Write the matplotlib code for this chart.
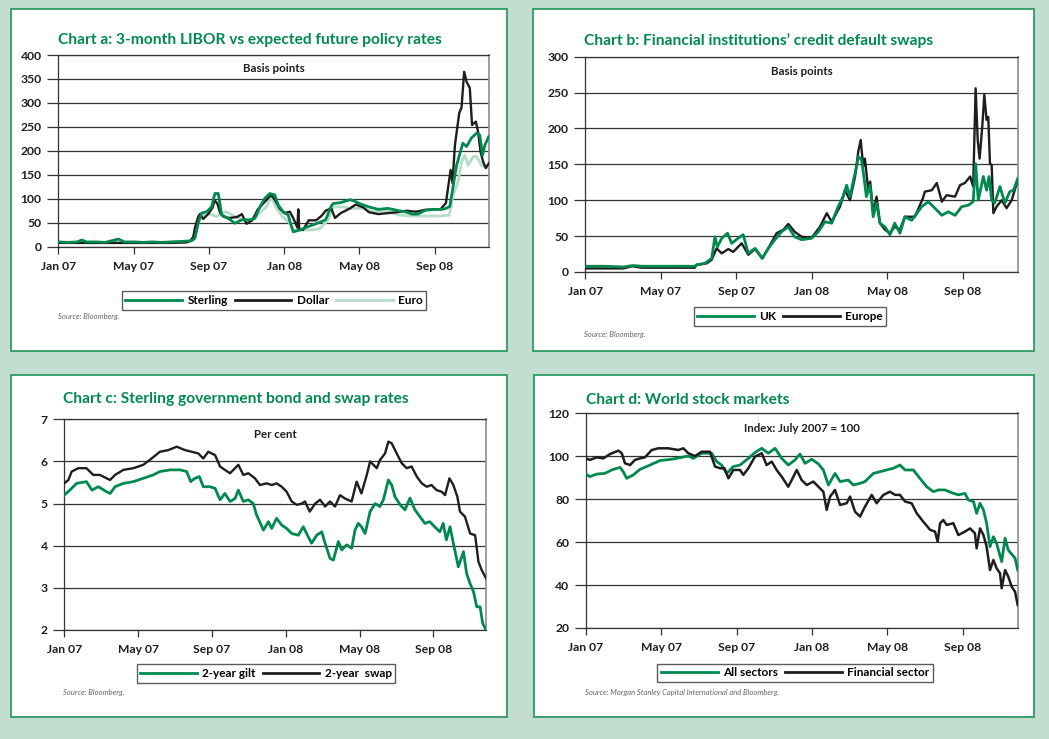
import matplotlib
matplotlib.use("Agg")
import matplotlib.pyplot as plt
from matplotlib.patches import Rectangle
from matplotlib.lines import Line2D

plt.rcParams.update({
    "font.family": ["Lato", "DejaVu Sans"],
    "font.size": 8.5,
})

GREEN = "#00894f"
LIGHT = "#b5dcc8"
DARK = "#1e1e1e"
BG = "#c3ddd0"

# x positions are months since 1 Jan 2007
month_ticks = [0, 4, 8, 12, 16, 20]
month_labels = ["Jan 07", "May 07", "Sep 07", "Jan 08", "May 08", "Sep 08"]

# ---- chart a: 3-month LIBOR spread (basis points)
a_sterling_m = [0, 0.5, 1.0, 1.25, 1.5, 2.0, 2.5, 3.2, 3.5, 4.0, 4.5, 5.0, 5.5, 6.0, 6.5, 7.0,
                7.15, 7.26, 7.43, 7.61, 7.88, 8.14, 8.32, 8.5, 8.68, 9.03, 9.38, 9.74, 10.18,
                10.44, 10.71, 10.97, 11.24, 11.5, 11.68, 11.95, 12.21, 12.39, 12.48, 12.83,
                13.27, 13.7, 14.2, 14.5, 14.6, 15.0, 15.5, 15.75, 16.0, 16.5, 17.0, 17.5, 18.0,
                18.5, 18.8, 19.1, 19.5, 20.0, 20.4, 20.6, 20.8, 20.95, 21.07, 21.16, 21.49,
                21.69, 21.95, 22.22, 22.39, 22.54, 22.66, 22.87]
a_sterling = [10, 9, 10, 14, 10, 10, 9, 16, 10, 10, 9, 10, 9, 10, 11, 12,
              14, 18, 49, 70, 73, 83, 111, 111, 66, 59, 49, 56, 56,
              59, 83, 101, 111, 108, 87, 73, 66, 42, 31, 35,
              42, 48, 56, 85, 90, 92, 98, 95, 90, 83, 78, 80, 76,
              72, 68, 68, 76, 78, 78, 80, 84, 120, 150, 170, 216,
              209, 227, 237, 233, 191, 212, 230]

a_dollar_m = [0, 1, 2, 3, 4, 5, 6, 6.8, 7.0, 7.17, 7.26, 7.43, 7.52, 7.7, 7.96, 8.2, 8.3, 8.45,
              8.6, 8.8, 9.1, 9.5, 9.75, 10.0, 10.3, 10.6, 11.0, 11.3, 11.5, 11.75, 12.0, 12.3,
              12.5, 12.7, 12.75, 12.8, 13.0, 13.3, 13.7, 14.0, 14.2, 14.5, 14.7, 15.0, 15.5,
              15.8, 16.2, 16.5, 17.0, 17.5, 18.0, 18.5, 19.0, 19.5, 20.0, 20.3, 20.59, 20.84,
              20.94, 21.07, 21.3, 21.42, 21.56, 21.69, 21.86, 21.98, 22.18, 22.3, 22.43,
              22.57, 22.71, 22.87]
a_dollar = [8, 8, 8, 8, 8, 8, 8, 9, 12, 20, 40, 62, 68, 58, 68, 82, 97, 90,
            70, 62, 60, 62, 68, 48, 55, 78, 95, 108, 98, 80, 70, 73,
            58, 40, 78, 35, 35, 55, 55, 65, 75, 80, 60, 70, 80,
            88, 82, 72, 68, 70, 72, 75, 73, 77, 78, 78, 91, 160,
            133, 212, 279, 290, 365, 344, 331, 254, 261, 240, 198,
            177, 164, 174]

a_euro_m = [0, 2, 4, 6, 7.0, 7.3, 7.52, 7.9, 8.4, 8.9, 9.25, 9.8, 10.3, 10.7, 11.05, 11.3,
            11.55, 11.9, 12.3, 12.48, 13.0, 13.5, 13.9, 14.34, 14.6, 15.1, 15.6, 16.2, 16.7,
            17.4, 18.1, 18.8, 19.5, 20.2, 20.77, 20.98, 21.24, 21.42, 21.6, 21.77, 22.04,
            22.22, 22.48, 22.71, 22.87]
a_euro = [8, 8, 8, 8, 10, 30, 63, 70, 63, 73, 66, 56, 56, 70, 83, 104,
          83, 63, 49, 35, 35, 35, 38, 56, 83, 83, 80, 80, 73,
          75, 66, 64, 64, 64, 66, 108, 136, 177, 191, 170, 188,
          188, 170, 166, 170]

# ---- chart b: financial institutions' CDS (basis points)
b_uk_m = [0, 1, 2, 2.5, 3, 4, 5, 5.8, 5.9, 6.34, 6.7, 6.87, 7.0, 7.23, 7.54, 7.76, 8.1, 8.37,
          8.64, 9.0, 9.38, 9.7, 10.05, 10.4, 10.76, 11.1, 11.47, 12.0, 12.35, 12.7, 13.06,
          13.4, 13.67, 13.85, 14.03, 14.2, 14.38, 14.47, 14.65, 14.79, 14.9, 15.1, 15.26,
          15.44, 15.62, 15.88, 16.15, 16.4, 16.68, 16.94, 17.3, 17.83, 18.18, 18.53, 18.9,
          19.24, 19.6, 19.95, 20.3, 20.56, 20.69, 20.83, 21.1, 21.27, 21.4, 21.54, 21.7,
          21.98, 22.24, 22.5, 22.7, 22.92]
b_uk = [8, 8, 7, 9, 8, 8, 8, 8, 10, 12, 19, 49, 35, 47, 54, 40, 47, 52,
        26, 33, 19, 33, 45, 56, 63, 49, 45, 47, 56, 70, 68,
        91, 105, 121, 105, 126, 147, 161, 156, 128, 105, 121, 77,
        96, 68, 63, 52, 68, 54, 77, 72, 91, 98, 89, 79,
        84, 79, 91, 93, 98, 151, 100, 133, 114, 133, 100, 96,
        119, 96, 112, 114, 130]

b_europe_m = [0, 1, 2, 2.5, 3, 4, 5, 5.8, 5.9, 6.43, 6.7, 6.96, 7.23, 7.58, 7.84, 8.29, 8.64,
              9.0, 9.38, 9.7, 10.14, 10.5, 10.76, 11.1, 11.47, 12.0, 12.44, 12.8, 13.06, 13.5,
              13.76, 14.03, 14.3, 14.47, 14.6, 14.73, 14.82, 15.0, 15.1, 15.26, 15.44, 15.62,
              15.88, 16.15, 16.4, 16.68, 16.94, 17.47, 17.9, 18.0, 18.37, 18.63, 18.9, 19.15,
              19.6, 19.86, 20.12, 20.4, 20.56, 20.69, 20.8, 20.9, 21.04, 21.15, 21.27, 21.36,
              21.45, 21.54, 21.63, 21.8, 22.07, 22.33, 22.6, 22.92]
b_europe = [5, 5, 5, 8, 6, 6, 6, 6, 10, 12, 17, 33, 26, 32, 28, 40, 24,
            32, 19, 33, 54, 59, 67, 56, 49, 48, 63, 82, 70, 91,
            114, 100, 133, 168, 184, 147, 158, 114, 126, 82, 105, 68,
            59, 54, 63, 59, 77, 77, 103, 112, 114, 124, 98, 107,
            105, 121, 124, 133, 119, 256, 184, 158, 202, 247, 212, 216,
            151, 149, 82, 91, 100, 89, 100, 128]

# ---- chart c: sterling government bond and swap rates (per cent)
c_gilt_m = [0, 0.3, 0.67, 1.2, 1.5, 1.84, 2.3, 2.48, 2.75, 3.2, 3.74, 4.28, 4.82, 5.18, 5.73,
            5.9, 6.27, 6.63, 6.85, 7.08, 7.32, 7.53, 7.9, 8.17, 8.44, 8.7, 8.98, 9.25, 9.43,
            9.7, 9.97, 10.24, 10.42, 10.79, 11.06, 11.24, 11.5, 11.78, 12.05, 12.32, 12.68,
            12.95, 13.22, 13.4, 13.68, 13.95, 14.13, 14.4, 14.58, 14.85, 15.03, 15.3, 15.57,
            15.75, 15.93, 16.1, 16.3, 16.57, 16.84, 17.1, 17.29, 17.56, 17.74, 17.92, 18.2,
            18.46, 18.73, 19.0, 19.27, 19.54, 19.8, 20.07, 20.35, 20.53, 20.7, 20.9, 21.08,
            21.35, 21.63, 21.8, 21.99, 22.17, 22.35, 22.53, 22.67, 22.85]
c_gilt = [5.2, 5.32, 5.48, 5.52, 5.32, 5.4, 5.28, 5.24, 5.4, 5.48, 5.52, 5.6, 5.68, 5.76, 5.8,
          5.8, 5.8, 5.76, 5.52, 5.6, 5.64, 5.4, 5.4, 5.36, 5.09, 5.24, 5.05, 5.12, 5.32,
          5.05, 5.09, 5.0, 4.73, 4.37, 4.57, 4.41, 4.65, 4.49, 4.41, 4.29, 4.25,
          4.45, 4.21, 4.06, 4.25, 4.33, 4.06, 3.7, 3.66, 4.1, 3.9, 4.02, 3.94,
          4.37, 4.53, 4.45, 4.29, 4.81, 5.0, 4.93, 5.09, 5.56, 5.44, 5.16, 4.97,
          4.85, 5.13, 4.85, 4.69, 4.53, 4.57, 4.45, 4.33, 4.53, 4.14, 4.45, 4.06,
          3.5, 3.86, 3.34, 3.1, 2.91, 2.55, 2.55, 2.16, 2.0]

c_swap_m = [0, 0.22, 0.4, 0.76, 1.2, 1.57, 1.93, 2.48, 2.75, 3.2, 3.74, 4.28, 4.73, 5.18, 5.64,
            6.09, 6.54, 6.9, 7.26, 7.53, 7.8, 8.17, 8.44, 8.7, 8.98, 9.16, 9.43, 9.7, 9.97,
            10.33, 10.6, 10.97, 11.24, 11.5, 11.78, 12.05, 12.32, 12.6, 12.86, 13.04, 13.3,
            13.59, 13.86, 14.13, 14.4, 14.67, 14.94, 15.21, 15.57, 15.84, 16.1, 16.39, 16.57,
            16.75, 16.93, 17.1, 17.38, 17.56, 17.74, 18.01, 18.28, 18.55, 18.82, 19.1, 19.37,
            19.64, 19.9, 20.17, 20.45, 20.63, 20.87, 21.08, 21.3, 21.44, 21.71, 21.99, 22.26,
            22.44, 22.62, 22.85]
c_swap = [5.48, 5.56, 5.76, 5.84, 5.84, 5.68, 5.68, 5.56, 5.68, 5.8, 5.84, 5.92, 6.07, 6.23, 6.27,
          6.35, 6.27, 6.23, 6.19, 6.07, 6.23, 6.15, 5.88, 5.8, 5.72, 5.8, 5.92, 5.68, 5.72,
          5.6, 5.44, 5.48, 5.44, 5.48, 5.4, 5.28, 5.05, 4.97, 5.0, 5.05, 4.81,
          5.0, 5.09, 4.93, 5.05, 4.93, 5.2, 5.12, 5.05, 5.52, 5.24, 5.68, 6.0,
          5.92, 5.84, 6.03, 6.19, 6.47, 6.43, 6.19, 5.96, 5.84, 5.88, 5.64, 5.48,
          5.4, 5.44, 5.32, 5.28, 5.2, 5.6, 5.44, 5.16, 4.81, 4.69, 4.29, 4.25,
          3.62, 3.42, 3.23]

# ---- chart d: world stock markets (index, July 2007 = 100)
d_all_m = [0, 0.21, 0.57, 1.0, 1.36, 1.8, 1.98, 2.16, 2.51, 2.87, 3.4, 3.93, 4.55, 5.08, 5.43,
           5.7, 6.14, 6.67, 6.94, 7.2, 7.47, 7.82, 8.18, 8.62, 8.97, 9.33, 9.68, 10.04, 10.39,
           10.74, 11.1, 11.36, 11.63, 11.98, 12.34, 12.6, 12.87, 13.22, 13.49, 13.93, 14.19,
           14.55, 14.81, 15.26, 15.61, 15.96, 16.32, 16.67, 16.94, 17.38, 17.73, 18.09, 18.44,
           18.7, 19.06, 19.42, 19.77, 20.12, 20.3, 20.57, 20.74, 20.92, 21.1, 21.27, 21.45,
           21.63, 21.8, 22.07, 22.25, 22.42, 22.64, 22.78, 22.92]
d_all = [91.7, 90.5, 91.7, 92, 93.6, 94.8, 92.8, 89.7, 91.3, 93.9, 95.9, 98, 98.6, 99.5, 100.1,
         99, 101.4, 101.4, 97.5, 95.9, 92, 95.2, 95.9, 99, 101.7, 103.7, 101.4, 103.7, 99,
         95.9, 98.3, 101, 96.7, 98.6, 96.4, 93.6, 86.6, 92, 88.2, 88.9, 86.6,
         87.4, 88.2, 92, 92.8, 93.6, 94.4, 95.9, 93.6, 93.6, 89.7, 85.8, 83.5,
         84.3, 84.3, 83, 82, 82.7, 79.6, 78.9, 73.4, 78.1, 75, 68.8, 57.9,
         62.5, 59.4, 50.9, 61.8, 56.3, 54, 52.5, 47]

d_fin_m = [0, 0.21, 0.57, 0.92, 1.27, 1.72, 1.9, 2.07, 2.34, 2.6, 2.87, 3.13, 3.49, 3.84, 4.37,
           4.9, 5.17, 5.43, 5.79, 6.14, 6.58, 6.85, 7.12, 7.35, 7.56, 7.82, 8.18, 8.35, 8.62,
           8.97, 9.33, 9.59, 9.86, 10.12, 10.39, 10.74, 10.92, 11.19, 11.45, 11.72, 12.07,
           12.34, 12.6, 12.78, 12.96, 13.22, 13.49, 13.84, 14.02, 14.28, 14.55, 14.81, 15.17,
           15.43, 15.79, 16.14, 16.41, 16.67, 16.94, 17.29, 17.56, 17.91, 18.27, 18.53, 18.67,
           18.8, 18.97, 19.15, 19.5, 19.77, 20.12, 20.39, 20.65, 20.74, 20.92, 21.1, 21.27,
           21.45, 21.63, 21.8, 21.98, 22.07, 22.25, 22.42, 22.6, 22.78, 22.92]
d_fin = [99, 98.3, 99.5, 99, 101, 102.6, 101.4, 96.7, 95.9, 98.3, 99, 99.5, 102.9, 103.7, 103.7,
         102.9, 103.7, 101.4, 100.1, 102.1, 102.1, 95.2, 94.4, 94.4, 89.7, 93.6, 93.6, 91.3, 94.4,
         99.8, 101.4, 95.9, 97.5, 93.6, 90.5, 85.8, 88.9, 93.6, 88.9, 86.6, 88.2,
         85.8, 83.5, 75, 81.2, 84.3, 77.3, 78.1, 81.2, 74.2, 71.9, 76.5, 82,
         78.1, 82, 83.5, 82, 82, 78.9, 78.1, 73.4, 69.5, 65.7, 64.9, 60.2,
         68.8, 70.3, 68, 68.8, 63.3, 64.9, 66.4, 64.1, 57.1, 66.4, 63.3, 57.9,
         47, 51.7, 47.8, 45.5, 38.5, 47, 43.9, 39.3, 36.9, 30.7]

W, H = 1049, 739


def fx(px):
    return px / W


def fy(py):
    return 1 - py / H


def panel(fig, x0, y0, x1, y1):
    # white card behind each chart, drawn below the axes
    fig.patches.append(Rectangle((fx(x0), fy(y1)), fx(x1 - x0), (y1 - y0) / H,
                                 transform=fig.transFigure, facecolor="white",
                                 edgecolor="#2e9a64", linewidth=1.3, zorder=-5))


def make_axis(fig, x0, y0, x1, y1, ylim, yticks, xmax, subtitle):
    ax = fig.add_axes([fx(x0), fy(y1), fx(x1 - x0), (y1 - y0) / H])
    ax.set_xlim(0, xmax)
    ax.set_ylim(*ylim)
    ax.set_yticks(yticks)
    ax.set_xticks(month_ticks)
    ax.set_xticklabels(month_labels)
    ax.yaxis.grid(True, color="#333333", linewidth=0.9)
    ax.set_axisbelow(True)
    ax.tick_params(axis="y", direction="out", length=8, width=0.9, color="#333333",
                   pad=4, labelsize=8.7, labelcolor=DARK)
    ax.tick_params(axis="x", direction="out", length=5, width=0.9, color="#333333",
                   pad=5, labelsize=8.7, labelcolor=DARK)
    for lab in ax.get_xticklabels() + ax.get_yticklabels():
        lab.set_fontweight("bold")
    for side in ["left", "top", "bottom"]:
        ax.spines[side].set_color("#333333")
        ax.spines[side].set_linewidth(0.9)
    ax.spines["right"].set_color("#8c8c8c")
    ax.spines["right"].set_linewidth(1.2)
    ax.text(0.5, 0.93, subtitle, transform=ax.transAxes, ha="center", va="center",
            fontsize=8.3, fontweight="bold", color=DARK)
    return ax


def add_legend(fig, handles, cx, cy):
    leg = fig.legend(handles=handles, loc="center", bbox_to_anchor=(fx(cx), fy(cy)),
                     ncol=len(handles), frameon=True, fancybox=False, handlelength=4.8,
                     handletextpad=0.45, columnspacing=0.6, borderpad=0.3,
                     prop={"weight": "bold", "size": 8.5})
    leg.get_frame().set_edgecolor("#333333")
    leg.get_frame().set_linewidth(1.0)
    return leg


fig = plt.figure(figsize=(W / 100, H / 100), dpi=100, facecolor=BG)

panel(fig, 10.5, 9, 507, 351)
panel(fig, 533, 9, 1034, 351)
panel(fig, 10.5, 375, 507, 717)
panel(fig, 534, 375, 1034, 717)

# ===============================
# Chart a
# ===============================
ax_a = make_axis(fig, 58.3, 55, 489, 246.7, (0, 400), range(0, 401, 50), 22.88, "Basis points")
ax_a.plot(a_euro_m, a_euro, color=LIGHT, lw=2.0, zorder=3)
ax_a.plot(a_dollar_m, a_dollar, color=DARK, lw=1.7, zorder=4)
ax_a.plot(a_sterling_m, a_sterling, color=GREEN, lw=2.0, zorder=5)
fig.text(fx(58), fy(43.7), "Chart a: 3-month LIBOR vs expected future policy rates",
         color=GREEN, fontsize=11.2, fontweight="bold", va="baseline")
add_legend(fig, [Line2D([0], [0], color=GREEN, lw=2, label="Sterling"),
                 Line2D([0], [0], color=DARK, lw=2, label="Dollar"),
                 Line2D([0], [0], color=LIGHT, lw=2, label="Euro")], 274, 300.5)
fig.text(fx(58), fy(316), "Source: Bloomberg.", fontsize=5.5, style="italic", color="#666666",
         va="center")

# ===============================
# Chart b
# ===============================
ax_b = make_axis(fig, 585.3, 56.7, 1017.7, 272, (0, 300), range(0, 301, 50), 22.92, "Basis points")
ax_b.plot(b_europe_m, b_europe, color=DARK, lw=1.7, zorder=4)
ax_b.plot(b_uk_m, b_uk, color=GREEN, lw=2.0, zorder=5)
fig.text(fx(584), fy(45.3), "Chart b: Financial institutions\u2019 credit default swaps",
         color=GREEN, fontsize=11.2, fontweight="bold", va="baseline")
add_legend(fig, [Line2D([0], [0], color=GREEN, lw=2, label="UK"),
                 Line2D([0], [0], color=DARK, lw=2, label="Europe")], 790, 316.5)
fig.text(fx(584), fy(335), "Source: Bloomberg.", fontsize=5.5, style="italic", color="#666666",
         va="center")

# ===============================
# Chart c
# ===============================
ax_c = make_axis(fig, 64.3, 419.3, 486, 630, (2, 7), range(2, 8), 22.85, "Per cent")
ax_c.plot(c_swap_m, c_swap, color=DARK, lw=1.7, zorder=4)
ax_c.plot(c_gilt_m, c_gilt, color=GREEN, lw=2.0, zorder=5)
fig.text(fx(63), fy(403.3), "Chart c: Sterling government bond and swap rates",
         color=GREEN, fontsize=11.2, fontweight="bold", va="baseline")
add_legend(fig, [Line2D([0], [0], color=GREEN, lw=2, label="2-year gilt"),
                 Line2D([0], [0], color=DARK, lw=2, label="2-year  swap")], 266, 673.5)
fig.text(fx(63), fy(692), "Source: Bloomberg.", fontsize=5.5, style="italic", color="#666666",
         va="center")

# ===============================
# Chart d
# ===============================
ax_d = make_axis(fig, 586, 413.3, 1017.7, 628, (20, 120), range(20, 121, 20), 22.92,
                 "Index: July 2007 = 100")
ax_d.plot(d_all_m, d_all, color=GREEN, lw=2.0, zorder=4)
ax_d.plot(d_fin_m, d_fin, color=DARK, lw=1.8, zorder=5)
fig.text(fx(586), fy(404), "Chart d: World stock markets",
         color=GREEN, fontsize=11.2, fontweight="bold", va="baseline")
add_legend(fig, [Line2D([0], [0], color=GREEN, lw=2, label="All sectors"),
                 Line2D([0], [0], color=DARK, lw=2, label="Financial sector")], 795, 673)
fig.text(fx(585), fy(692), "Source: Morgan Stanley Capital International and Bloomberg.",
         fontsize=5.5, style="italic", color="#666666", va="center")

fig.savefig("out.png", dpi=100, facecolor=fig.get_facecolor())
